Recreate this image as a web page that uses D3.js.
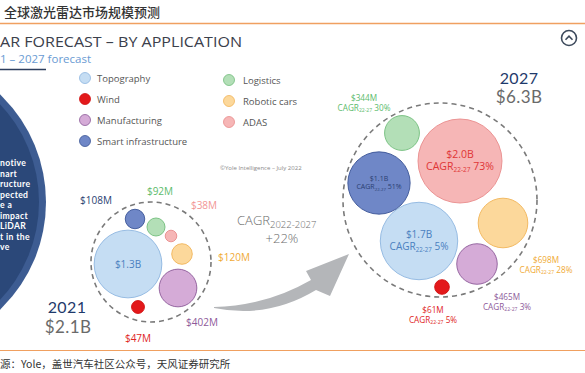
<!DOCTYPE html>
<html>
<head>
<meta charset="utf-8">
<script src="https://cdn.jsdelivr.net/npm/d3@7"></script>
<style>
  body { margin: 0; background: #fff; }
  svg { display: block; font-family: "Open Sans", sans-serif; }
</style>
</head>
<body>
<svg width="585" height="373"></svg>
<script>
// data, values in $M
const categories = ["Topography", "Wind", "Manufacturing", "Smart infrastructure", "Logistics", "Robotic cars", "ADAS"];
const value2021 = [1300, 47, 402, 108, 92, 120, 38];
const value2027 = [1700, 61, 465, 1100, 344, 698, 2000];
const cagr2227 = [5, 5, 3, 51, 30, 28, 73];
const years = ["2021", "2027"];
const totals = ["$2.1B", "$6.3B"];
const totalCagr = "+22%";

// styles
const fills   = ["#c5ddf3", "#e3191b", "#d5abd7", "#6f87c7", "#b3dfb7", "#fcd89b", "#f6b6b6"];
const strokes = ["#8db5e0", "#d01010", "#8c5a98", "#3b5596", "#72bd7c", "#f1b458", "#e98b8b"];
const textCol = ["#4a80c0", "#e02424", "#8e5a9a", "#2b3f72", "#5cbb6c", "#f0aa35", "#f29595"];

const svg = d3.select("svg");
const W = 585, H = 373;

const r = d3.scaleSqrt().domain([0, 2000]).range([0, 42]);
const fmt = v => v >= 1000 ? "$" + (v / 1000).toFixed(1) + "B" : "$" + v + "M";

// page chrome
svg.append("text").attr("x", 4).attr("y", 17)
  .attr("font-family", "Noto Sans CJK SC").attr("font-size", 13).attr("font-weight", 500)
  .attr("fill", "#333").text("全球激光雷达市场规模预测");
svg.append("line").attr("x1", 0).attr("x2", W).attr("y1", 23.5).attr("y2", 23.5)
  .attr("stroke", "#f0a060").attr("stroke-width", 1.5);
svg.append("line").attr("x1", 0).attr("x2", W).attr("y1", 350.5).attr("y2", 350.5)
  .attr("stroke", "#f0a060").attr("stroke-width", 1.2);
svg.append("text").attr("x", 0).attr("y", 368)
  .attr("font-family", "Noto Sans CJK SC").attr("font-size", 10.5)
  .attr("fill", "#333").text("源：Yole，盖世汽车社区公众号，天风证券研究所");

// slide header
svg.append("text").attr("x", 0).attr("y", 47).attr("font-size", 14.5).attr("font-weight", 500)
  .attr("fill", "#3b404b").attr("textLength", 242).attr("lengthAdjust", "spacingAndGlyphs")
  .text("AR FORECAST – BY APPLICATION");
svg.append("text").attr("x", 0).attr("y", 63).attr("font-size", 11.5)
  .attr("fill", "#6a9bd3").text("1 – 2027 forecast");
svg.append("line").attr("x1", 0).attr("x2", 46).attr("y1", 69.5).attr("y2", 69.5)
  .attr("stroke", "#2d3e5e").attr("stroke-width", 1.5);

// chevron icon
const chev = svg.append("g").attr("transform", "translate(569,38)");
chev.append("circle").attr("r", 7.5).attr("fill", "none").attr("stroke", "#3d4a5c").attr("stroke-width", 1.6);
chev.append("path").attr("d", "M-3.5,1.8 L0,-1.8 L3.5,1.8").attr("fill", "none")
  .attr("stroke", "#3d4a5c").attr("stroke-width", 1.6);

// big dark disc on the left
svg.append("circle").attr("cx", -103).attr("cy", 202).attr("r", 149).attr("fill", "#3d5c92");
svg.append("circle").attr("cx", -103).attr("cy", 202).attr("r", 142).attr("fill", "#2b4879");
const discLines = ["notive", "nart", "ructure", "pected", "e a", "impact", "LiDAR", "t in the", "ve"];
svg.append("g").selectAll("text").data(discLines).join("text")
  .attr("x", 0).attr("y", (d, i) => 166 + i * 10.5)
  .attr("font-family", "Lato").attr("font-size", 8.6).attr("font-weight", 700)
  .attr("letter-spacing", 0.35).attr("fill", "#fff").text(d => d);

// legend
const legend = svg.append("g");
categories.forEach((c, i) => {
  const col = i < 4 ? 0 : 1, row = i < 4 ? i : i - 4;
  const g = legend.append("g").attr("transform", `translate(${85 + col * 144},${78 + row * 21 + col * 2})`);
  g.append("circle").attr("r", 5.5).attr("fill", fills[i]).attr("stroke", strokes[i]).attr("stroke-width", 0.8);
  g.append("text").attr("x", 12 + col * 2).attr("y", 3.5).attr("font-size", 9.5).attr("fill", "#555").text(c);
});

svg.append("text").attr("x", 220).attr("y", 170).attr("font-size", 6).attr("fill", "#8a8a8a")
  .text("©Yole Intelligence – July 2022");

// overall CAGR
const cg = svg.append("text").attr("x", 237).attr("y", 225).attr("font-size", 13)
  .attr("font-weight", 300).attr("fill", "#6d6d6d");
cg.append("tspan").text("CAGR");
cg.append("tspan").attr("font-size", 9.5).attr("dy", 3).text("2022-2027");
svg.append("text").attr("x", 282).attr("y", 243).attr("text-anchor", "middle").attr("font-size", 13)
  .attr("font-weight", 300).attr("fill", "#6d6d6d").text(totalCagr);

// arrow
svg.append("path")
  .attr("d", "M214,307 Q266,306 311,280 L306,271 L349,254 L330,296 L316,290 Q268,319 214,308 Z")
  .attr("fill", "#b4b6b9");

// bubble layout: offsets of bubble centres and labels from the group centre
const groups = [
  { cx: 151, cy: 262, R: 60, values: value2021,
    pos: [[-23, 2], [-13, 45], [27, 26], [-16, -43], [5, -35], [31, -8], [20, -26]],
    lab: [null, [-13, 80], [51, 64], [-55, -58], [9, -67], [83, -1], [53, -53]],
    year: [67, 313], total: [68, 333] },
  { cx: 440, cy: 200, R: 97, values: value2027,
    pos: [[-21, 41], [2, 87], [37, 64], [-61, -17], [-38, -67], [63, 23], [20, -39]],
    lab: [null, [-7, 113], [67, 100], null, [-76, -99], [106, 63], null],
    year: [519, 84], total: [519, 103] }
];

groups.forEach((G, gi) => {
  const g = svg.append("g");
  g.append("circle").attr("cx", G.cx).attr("cy", G.cy).attr("r", G.R)
    .attr("fill", "none").attr("stroke", "#7a7a7a").attr("stroke-width", 1.6).attr("stroke-dasharray", "5,4");

  const nodes = categories.map((c, i) => ({
    i, v: G.values[i], x: G.cx + G.pos[i][0], y: G.cy + G.pos[i][1]
  }));
  g.selectAll(".b").data(nodes).join("circle")
    .attr("cx", d => d.x).attr("cy", d => d.y).attr("r", d => r(d.v))
    .attr("fill", d => fills[d.i]).attr("stroke", d => strokes[d.i]).attr("stroke-width", 0.9);

  nodes.forEach(d => {
    const inside = G.lab[d.i] === null;
    let x, y, fs;
    if (inside) {
      x = d.x; fs = gi === 0 ? 10 : (d.v >= 2000 ? 10.5 : d.v >= 1500 ? 10 : 7);
      y = gi === 0 ? d.y + 4 : d.y - (fs > 8 ? 3.5 : 2);
    } else {
      x = G.cx + G.lab[d.i][0]; y = G.cy + G.lab[d.i][1]; fs = gi === 0 ? 10 : 8.2;
    }
    let col = textCol[d.i];
    if (inside && gi === 1 && d.i === 6) col = "#e03535";
    g.append("text").attr("x", x).attr("y", y).attr("text-anchor", "middle")
      .attr("font-size", fs).attr("font-weight", 500).attr("fill", col).text(fmt(d.v));
    if (gi === 1) {
      const t = g.append("text").attr("x", x).attr("y", y + fs * 1.2).attr("text-anchor", "middle")
        .attr("font-size", fs).attr("font-weight", 500).attr("fill", col);
      t.append("tspan").text("CAGR");
      t.append("tspan").attr("font-size", fs * 0.62).attr("dy", fs * 0.2).text("22-27");
      t.append("tspan").attr("dy", -fs * 0.2).text(" " + cagr2227[d.i] + "%");
    }
  });

  svg.append("text").attr("x", G.year[0]).attr("y", G.year[1]).attr("text-anchor", "middle")
    .attr("font-family", "Lato").attr("font-size", 16).attr("font-weight", 400)
    .attr("letter-spacing", 0.4).attr("fill", "#1f3a6b").text(years[gi]);
  svg.append("text").attr("x", G.total[0]).attr("y", G.total[1]).attr("text-anchor", "middle")
    .attr("font-family", "Lato").attr("font-size", 17).attr("letter-spacing", 0.4)
    .attr("fill", "#6a6a6a").text(totals[gi]);
});
</script>
</body>
</html>
